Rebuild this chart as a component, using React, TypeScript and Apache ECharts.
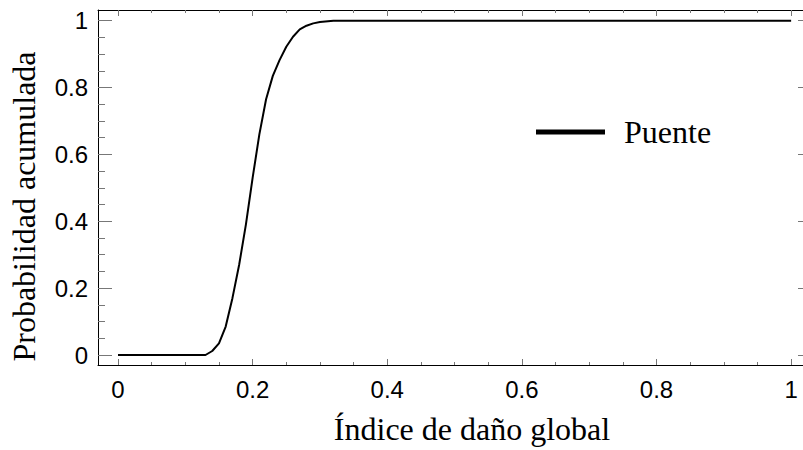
import React, { useEffect, useRef } from "react";
import * as echarts from "echarts";

// Data
const damageIndex = [0, 0.13, 0.14, 0.15, 0.16, 0.17, 0.18, 0.19, 0.2, 0.21, 0.22, 0.23, 0.24, 0.25, 0.26, 0.27, 0.28, 0.29, 0.3, 0.32, 1.0];
const cumulativeProb = [0, 0, 0.012, 0.035, 0.085, 0.17, 0.27, 0.39, 0.53, 0.66, 0.765, 0.835, 0.882, 0.922, 0.952, 0.974, 0.985, 0.992, 0.996, 1.0, 1.0];
const seriesName = "Puente";

const xMajorTicks = [0, 0.2, 0.4, 0.6, 0.8, 1];
const xMinorTicks = [0.05, 0.1, 0.15, 0.25, 0.3, 0.35, 0.45, 0.5, 0.55, 0.65, 0.7, 0.75, 0.85, 0.9, 0.95];
const yMajorTicks = [0, 0.2, 0.4, 0.6, 0.8, 1];
const yMinorTicks = [0.05, 0.1, 0.15, 0.25, 0.3, 0.35, 0.45, 0.5, 0.55, 0.65, 0.7, 0.75, 0.85, 0.9, 0.95];

const xTitle = "Índice de daño global";
const yTitle = "Probabilidad acumulada";

const X_MIN = -0.0297;
const X_MAX = 1.031;
const Y_MIN = -0.0299;
const Y_MAX = 1.032;

const fmt = (v: number) => String(Math.round(v * 10) / 10);
const tickColor = "#777777";

export default function App() {
  const ref = useRef<HTMLDivElement>(null);
  useEffect(() => {
    if (!ref.current) return;
    const chart = echarts.init(ref.current, undefined, { renderer: "svg" });

    const baseX = (position: "bottom" | "top", ticks: number[], len: number, showLine: boolean, labels: boolean, name?: boolean) => ({
      type: "value",
      position,
      min: X_MIN,
      max: X_MAX,
      axisLine: { show: showLine, onZero: false, lineStyle: { color: "#000", width: 1 } },
      axisTick: { show: true, inside: true, length: len, customValues: ticks, lineStyle: { color: tickColor, width: 1 } },
      axisLabel: labels
        ? { show: true, customValues: ticks, formatter: (v: number) => fmt(v), fontFamily: "Liberation Sans", fontSize: 24, color: "#000", margin: 12 }
        : { show: false },
      splitLine: { show: false },
      ...(name
        ? {
            name: xTitle,
            nameLocation: "middle",
            nameGap: 48,
            nameTextStyle: { fontFamily: "Liberation Serif", fontSize: 32, color: "#000", padding: [0, 0, 0, 34] },
          }
        : {}),
    });

    const baseY = (position: "left" | "right", ticks: number[], len: number, showLine: boolean, labels: boolean, name?: boolean) => ({
      type: "value",
      position,
      min: Y_MIN,
      max: Y_MAX,
      axisLine: { show: showLine, onZero: false, lineStyle: { color: "#000", width: 1 } },
      axisTick: { show: true, inside: true, length: len, customValues: ticks, lineStyle: { color: tickColor, width: 1 } },
      axisLabel: labels
        ? { show: true, customValues: ticks, formatter: (v: number) => fmt(v), fontFamily: "Liberation Sans", fontSize: 24, color: "#000", margin: 10 }
        : { show: false },
      splitLine: { show: false },
      ...(name
        ? {
            name: yTitle,
            nameLocation: "middle",
            nameGap: 58,
            nameTextStyle: { fontFamily: "Liberation Serif", fontSize: 32, color: "#000", padding: [0, 38, 0, 0] },
          }
        : {}),
    });

    chart.setOption({
      animation: false,
      backgroundColor: "#ffffff",
      grid: { left: 98, top: 10, width: 714, height: 355, containLabel: false, outerBoundsMode: "none" },
      legend: {
        show: true,
        left: 531,
        top: 111,
        icon: "rect",
        itemWidth: 69,
        itemHeight: 5,
        textStyle: { fontFamily: "Liberation Serif", fontSize: 32, color: "#000", padding: [0, 0, 0, 14] },
        data: [seriesName],
      },
      xAxis: [
        baseX("bottom", xMajorTicks, 6, true, true, true),
        baseX("bottom", xMinorTicks, 3, false, false),
        baseX("top", xMajorTicks, 6, true, false),
        baseX("top", xMinorTicks, 3, false, false),
      ],
      yAxis: [
        baseY("left", yMajorTicks, 14, true, true, true),
        baseY("left", yMinorTicks, 7, false, false),
        baseY("right", yMajorTicks, 14, true, false),
        baseY("right", yMinorTicks, 7, false, false),
      ],
      series: [
        {
          name: seriesName,
          type: "line",
          xAxisIndex: 0,
          yAxisIndex: 0,
          data: damageIndex.map((x, i) => [x, cumulativeProb[i]]),
          showSymbol: false,
          symbol: "none",
          smooth: false,
          lineStyle: { color: "#000", width: 2 },
          itemStyle: { color: "#000" },
        },
      ],
    } as any);
    return () => chart.dispose();
  }, []);
  return <div ref={ref} style={{ position: "absolute", left: 0, top: 0, width: 803, height: 450 }} />;
}
